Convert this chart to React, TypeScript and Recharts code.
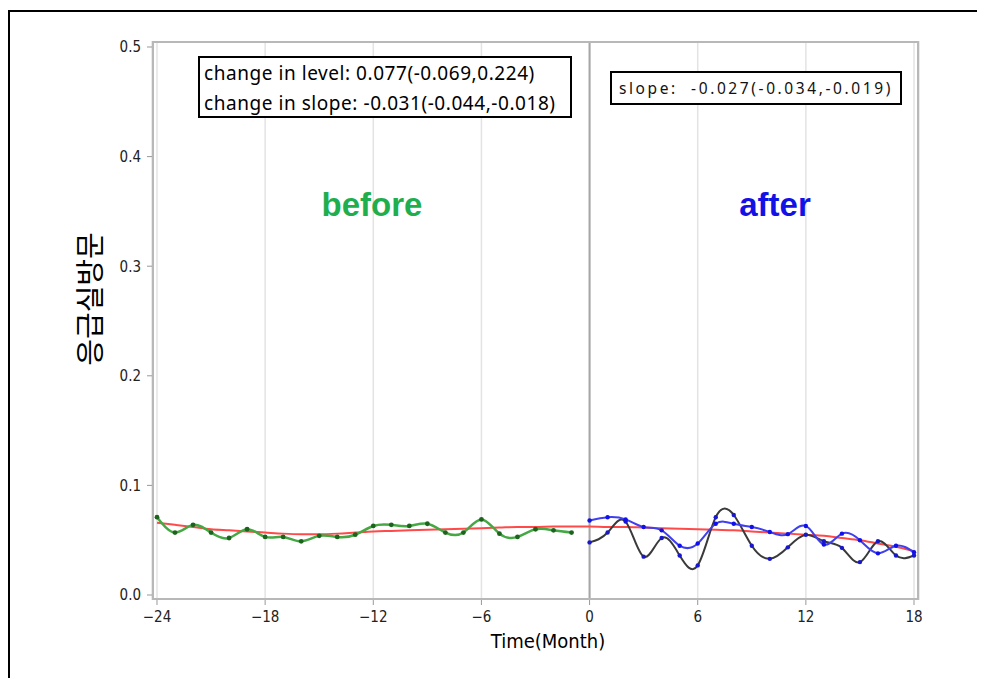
import React from 'react';
import { ComposedChart, Line, XAxis, YAxis, CartesianGrid, ReferenceLine } from 'recharts';

// Monthly visit rate, 24 months before and 18 months after the intervention
const months = [
  -24, -23, -22, -21, -20, -19, -18, -17, -16, -15, -14, -13, -12, -11, -10, -9, -8, -7, -6, -5, -4, -3, -2, -1,
  0, 1, 2, 3, 4, 5, 6, 7, 8, 9, 10, 11, 12, 13, 14, 15, 16, 17, 18,
];

const beforeRate = [
  0.071, 0.057, 0.064, 0.057, 0.052, 0.06, 0.053, 0.053, 0.049, 0.054, 0.053, 0.055,
  0.063, 0.064, 0.063, 0.065, 0.057, 0.057, 0.069, 0.056, 0.053, 0.06, 0.059, 0.057,
];

// after: observed (blue) and comparison (black)
const afterRate = [
  0.068, 0.071, 0.069, 0.062, 0.059, 0.045, 0.047, 0.065, 0.065, 0.062,
  0.0575, 0.0555, 0.063, 0.046, 0.056, 0.05, 0.038, 0.045, 0.039,
];
const afterRateAlt = [
  0.048, 0.057, 0.067, 0.035, 0.052, 0.036, 0.027, 0.071, 0.073, 0.045,
  0.033, 0.0435, 0.055, 0.049, 0.043, 0.03, 0.049, 0.036, 0.036,
];

// fitted trend over the whole period
const trendRate = [
  0.066, 0.064, 0.062, 0.06, 0.059, 0.058, 0.057, 0.056, 0.0555, 0.0555, 0.056, 0.057,
  0.058, 0.0585, 0.059, 0.0595, 0.06, 0.0605, 0.061, 0.0615, 0.062, 0.062, 0.0625, 0.0625,
  0.0625, 0.062, 0.062, 0.0615, 0.061, 0.0605, 0.06, 0.0595, 0.059, 0.058, 0.057, 0.056,
  0.055, 0.054, 0.052, 0.05, 0.047, 0.044, 0.04,
];

const xTicks = [-24, -18, -12, -6, 0, 6, 12, 18];
const yTicks = [0, 0.1, 0.2, 0.3, 0.4, 0.5];

const nBefore = beforeRate.length;
const data = months.map((m, i) => ({
  month: m,
  before: i < nBefore ? beforeRate[i] : undefined,
  after: i >= nBefore ? afterRate[i - nBefore] : undefined,
  afterAlt: i >= nBefore ? afterRateAlt[i - nBefore] : undefined,
  trend: trendRate[i],
}));

const tickFont = "'Liberation Sans Narrow', 'DejaVu Sans Condensed', 'Liberation Sans', sans-serif";
const boxFont = "'Noto Sans', 'Noto Sans CJK KR', sans-serif";
const korFont = "'Noto Sans CJK KR', 'Noto Sans', sans-serif";

const fmtX = (v: number) => (v < 0 ? `\u2212${Math.abs(v)}` : `${v}`);

const App: React.FC = () => {
  return (
    <div style={{ position: 'relative', width: 977, height: 670, overflow: 'hidden', background: '#fff' }}>
      <div
        style={{
          position: 'absolute', left: 0, top: 2, width: 1100, height: 800,
          borderTop: '2px solid #000', borderLeft: '2px solid #000',
        }}
      />
      <ComposedChart
        width={977}
        height={670}
        data={data}
        margin={{ top: 33, right: 66, bottom: 48, left: 0 }}
        style={{ position: 'absolute', left: 0, top: 0 }}
      >
        <CartesianGrid horizontal={false} stroke="#e3e3e3" strokeWidth={1.5} />
        <XAxis
          dataKey="month"
          type="number"
          domain={[-24.277, 18.277]}
          ticks={xTicks}
          tickFormatter={fmtX}
          height={30}
          axisLine={false}
          tickSize={5}
          tickMargin={6}
          tickLine={{ stroke: '#999' }}
          tick={{ fill: '#222', fontSize: 15, fontFamily: tickFont }}
          allowDataOverflow
        />
        <YAxis
          type="number"
          domain={[-0.00456, 0.50547]}
          ticks={yTicks}
          tickFormatter={(v: number) => v.toFixed(1)}
          width={144}
          axisLine={false}
          tickSize={5}
          tickMargin={6}
          tickLine={{ stroke: '#999' }}
          tick={{ fill: '#222', fontSize: 15, fontFamily: tickFont }}
          allowDataOverflow
        />
        <ReferenceLine x={0} stroke="#a6a6a6" strokeWidth={2} />
        <Line
          dataKey="trend"
          type="monotone"
          stroke="#ff4a4a"
          strokeWidth={2}
          dot={false}
          isAnimationActive={false}
        />
        <Line
          dataKey="afterAlt"
          type="natural"
          stroke="#3a3a3a"
          strokeWidth={2}
          dot={{ r: 2.2, fill: '#1818c8', stroke: 'none' }}
          isAnimationActive={false}
        />
        <Line
          dataKey="after"
          type="natural"
          stroke="#3f3ff0"
          strokeWidth={2}
          dot={{ r: 2.2, fill: '#1010e8', stroke: 'none' }}
          isAnimationActive={false}
        />
        <Line
          dataKey="before"
          type="natural"
          stroke="#45a845"
          strokeWidth={2.5}
          dot={{ r: 2.4, fill: '#1c641c', stroke: 'none' }}
          isAnimationActive={false}
        />
      </ComposedChart>

      {/* plot frame */}
      <div
        style={{
          position: 'absolute', left: 144, top: 33, width: 767, height: 559,
          border: '2px solid #b8b8b8', boxSizing: 'border-box', pointerEvents: 'none',
        }}
      />

      <div
        style={{
          position: 'absolute', left: 190, top: 48, width: 374, height: 62, boxSizing: 'border-box',
          border: '2px solid #000', background: '#fff', fontFamily: boxFont, fontSize: 19,
          letterSpacing: 0.55, lineHeight: '30px', padding: '0 0 0 4px', color: '#000', whiteSpace: 'nowrap',
        }}
      >
        <div>change in level: 0.077(-0.069,0.224)</div>
        <div>change in slope: -0.031(-0.044,-0.018)</div>
      </div>

      <div
        style={{
          position: 'absolute', left: 602, top: 63, width: 292, height: 34, boxSizing: 'border-box',
          border: '2px solid #000', background: '#fff', fontFamily: boxFont, fontSize: 15.5,
          lineHeight: '30px', padding: '0 0 0 7px', color: '#111', letterSpacing: 2.6, whiteSpace: 'nowrap',
        }}
      >
        slope:&nbsp;&nbsp;-0.027(-0.034,-0.019)
      </div>

      <div
        style={{
          position: 'absolute', left: 264, top: 178, width: 200, textAlign: 'center',
          fontFamily: "'Liberation Sans', Arial, sans-serif", fontWeight: 'bold', fontSize: 33, color: '#1fae4e',
        }}
      >
        before
      </div>
      <div
        style={{
          position: 'absolute', left: 667, top: 178, width: 200, textAlign: 'center',
          fontFamily: "'Liberation Sans', Arial, sans-serif", fontWeight: 'bold', fontSize: 33, color: '#1212e6',
        }}
      >
        after
      </div>

      <div
        style={{
          position: 'absolute', left: 80 - 100, top: 291 - 18, width: 200, height: 36, textAlign: 'center',
          transform: 'rotate(-90deg)', fontFamily: korFont, fontSize: 29, lineHeight: '36px', color: '#000',
        }}
      >
        응급실방문
      </div>

      <div
        style={{
          position: 'absolute', left: 440, top: 621, width: 200, textAlign: 'center',
          fontFamily: tickFont, fontSize: 20, color: '#000',
        }}
      >
        Time(Month)
      </div>
    </div>
  );
};

export default App;
